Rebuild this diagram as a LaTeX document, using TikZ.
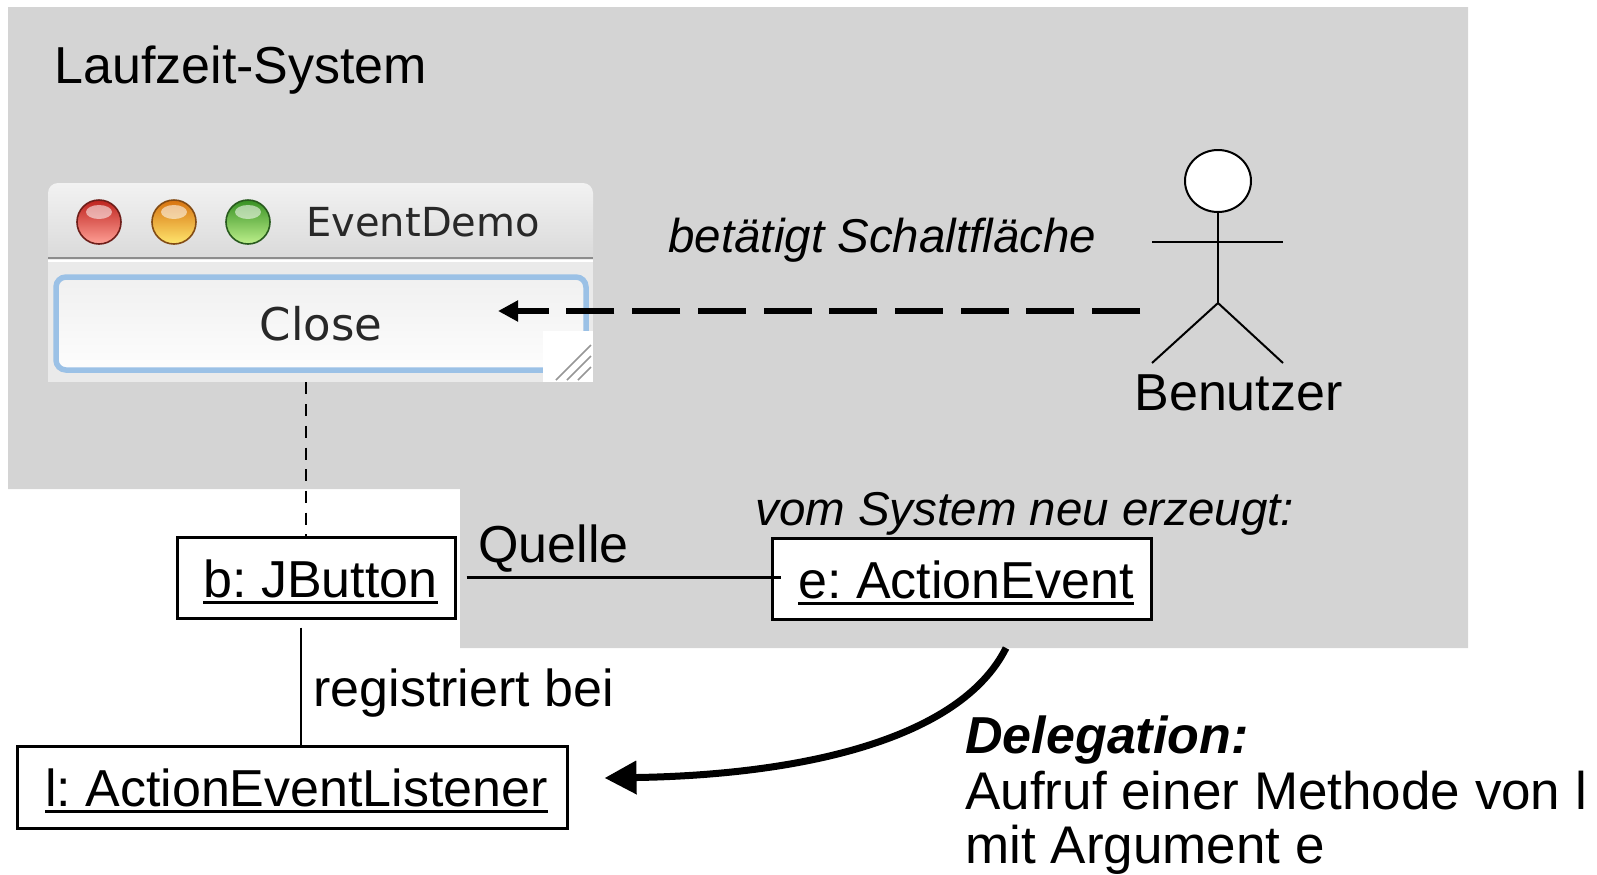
\documentclass[tikz,border=0pt]{standalone}
\usepackage{fontspec}
\setmainfont{Liberation Sans}
\newfontfamily\macfont{DejaVu Sans}
\usetikzlibrary{arrows.meta,calc}
\frenchspacing
\definecolor{bggray}{RGB}{212,212,212}
\definecolor{winbody}{RGB}{234,234,234}
\definecolor{btnblue}{RGB}{155,193,230}
\definecolor{mactext}{RGB}{40,40,40}
\newcommand{\uline}[1]{\setbox0\hbox{#1}\rlap{\rule[-3.25pt]{\wd0}{1.5pt}}\box0}
\tikzset{
  objbox/.style={draw, line width=1.5pt, fill=white, inner sep=0pt,
    font=\fontsize{26pt}{31pt}\selectfont, text height=19.5pt, text depth=0pt},
  lbl/.style={font=\fontsize{26pt}{31pt}\selectfont, inner sep=0pt, anchor=base west},
  ilbl/.style={font=\fontsize{23.75pt}{28pt}\selectfont\itshape, inner sep=0pt, anchor=base west},
  conn/.style={line width=1.25pt},
  thindash/.style={line width=1.25pt, dash pattern=on 6pt off 4.85pt},
  actorline/.style={line width=1pt},
  actorarrow/.style={line width=3.25pt, dash pattern=on 24pt off 8.85pt,
    -{Triangle[length=10pt,width=10pt]}},
  delegarrow/.style={line width=3.5pt, -{Triangle[length=16pt,width=16pt]}},
  light/.style={line width=0.8pt}
}
\begin{document}
\begin{tikzpicture}[x=0.5pt,y=-0.5pt]
\useasboundingbox (0,0) rectangle (1597,874);
% runtime system area
\fill[bggray] (8,7) -- (1468,7) -- (1468,648) -- (460,648) -- (460,489) -- (8,489) -- cycle;
\node[lbl] (title) at (54,83) {Laufzeit-System};

% window screenshot
\node[inner sep=0pt, minimum width=272.5pt, minimum height=99.5pt] (win) at (320.5,282.5) {};
\shade[top color={rgb,255:red,242;green,242;blue,242}, bottom color={rgb,255:red,214;green,214;blue,214}, rounded corners=5pt]
  (48,183) rectangle (593,270);
\fill[winbody] (48,258) rectangle (593,382);
\draw[line width=0.9pt, color={rgb,255:red,140;green,140;blue,140}] (48,258) -- (593,258);
\draw[line width=0.6pt, color=white] (48,261) -- (593,261);
% traffic lights
\shade[top color={rgb,255:red,190;green,35;blue,30}, bottom color={rgb,255:red,255;green,160;blue,150}]
  (99,222) circle [radius=11pt];
\draw[light, color={rgb,255:red,110;green,30;blue,25}] (99,222) circle [radius=11pt];
\shade[top color={rgb,255:red,215;green,115;blue,15}, bottom color={rgb,255:red,255;green,230;blue,110}]
  (174,222) circle [radius=11pt];
\draw[light, color={rgb,255:red,130;green,75;blue,20}] (174,222) circle [radius=11pt];
\shade[top color={rgb,255:red,55;green,145;blue,35}, bottom color={rgb,255:red,190;green,240;blue,140}]
  (248,222) circle [radius=11pt];
\draw[light, color={rgb,255:red,40;green,90;blue,30}] (248,222) circle [radius=11pt];
\fill[white, opacity=0.55] (99,212) ellipse [x radius=6.5pt, y radius=3.5pt];
\fill[white, opacity=0.55] (174,212) ellipse [x radius=6.5pt, y radius=3.5pt];
\fill[white, opacity=0.55] (248,212) ellipse [x radius=6.5pt, y radius=3.5pt];
\node[anchor=base west, inner sep=0pt, font=\macfont\fontsize{20pt}{24pt}\selectfont, text=mactext] (wtitle) at (306,236) {EventDemo};
% Close button
\node[draw=btnblue, line width=2.75pt, rounded corners=5pt,
  top color={rgb,255:red,240;green,240;blue,240}, bottom color={rgb,255:red,253;green,253;blue,253},
  minimum width=265pt, minimum height=46.5pt, inner sep=0pt,
  font=\macfont\fontsize{22.5pt}{26pt}\selectfont, text=mactext] (closebtn) at (321,323.5) {Close};
% resize grip
\fill[white] (543,331) rectangle (593,382);
\draw[light, color={rgb,255:red,150;green,150;blue,150}] (556,380) -- (591,345);
\draw[light, color={rgb,255:red,150;green,150;blue,150}] (567,380) -- (591,356);
\draw[light, color={rgb,255:red,150;green,150;blue,150}] (578,380) -- (591,367);

% actor
\coordinate (actor) at (1218,181);
\draw[actorline] (1218,212) -- (1218,303);
\draw[actorline] (1152,242) -- (1283,242);
\draw[actorline] (1152,363) -- (1218,303) -- (1283,363);
\draw[actorline, fill=white] (actor) ellipse [x radius=16.5pt, y radius=15.5pt];
\node[lbl] (benutzer) at (1134,410) {Benutzer};

% user presses button
\coordinate (hand) at (1140,311);
\coordinate (pressed) at (498,311);
\draw[actorarrow] (hand) -- (pressed);
\node[ilbl] (press) at (668,252) {betätigt Schaltfläche};

% objects
\node[objbox, minimum width=139pt, minimum height=40.5pt] (b) at (316,577.5) {\hspace*{4.5pt}\uline{b: JButton}};
\node[objbox, minimum width=189.5pt, minimum height=40.5pt] (e) at (961.5,578.5) {\hspace*{4.5pt}\uline{e: ActionEvent}};
\node[objbox, minimum width=275pt, minimum height=41pt] (l) at (292,787) {\hspace*{4.5pt}\uline{l: ActionEventListener}};

\node[ilbl] (neu) at (755,525) {vom System neu erzeugt:};
\node[lbl] (quelle) at (478,562) {Quelle};
\node[lbl] (reg) at (313,706) {registriert bei};

% connectors
\draw[thindash] ([xshift=-5pt]b.north |- win.south) -- ([xshift=-5pt]b.north);
\draw[conn] ([xshift=5pt]b.east) -- ([xshift=5pt]b.east -| e.west);
\draw[conn] ([xshift=-7.5pt,yshift=-4pt]b.south) -- ([xshift=-7.5pt]b.south |- l.north);
\coordinate (cs) at (1006,648);
\draw[delegarrow] (cs) .. controls (960,740) and (800,775) .. ([xshift=18pt,yshift=4.5pt]l.east);

% delegation text
\node[lbl, font=\fontsize{26pt}{31pt}\selectfont\bfseries\itshape] (deleg) at (965,753) {Delegation:};
\node[lbl, font=\fontsize{26.5pt}{31pt}\selectfont] (deleg2) at (965,809) {Aufruf einer Methode von l};
\node[lbl, font=\fontsize{26.5pt}{31pt}\selectfont] (deleg3) at (965,863) {mit Argument e};
\end{tikzpicture}
\end{document}
